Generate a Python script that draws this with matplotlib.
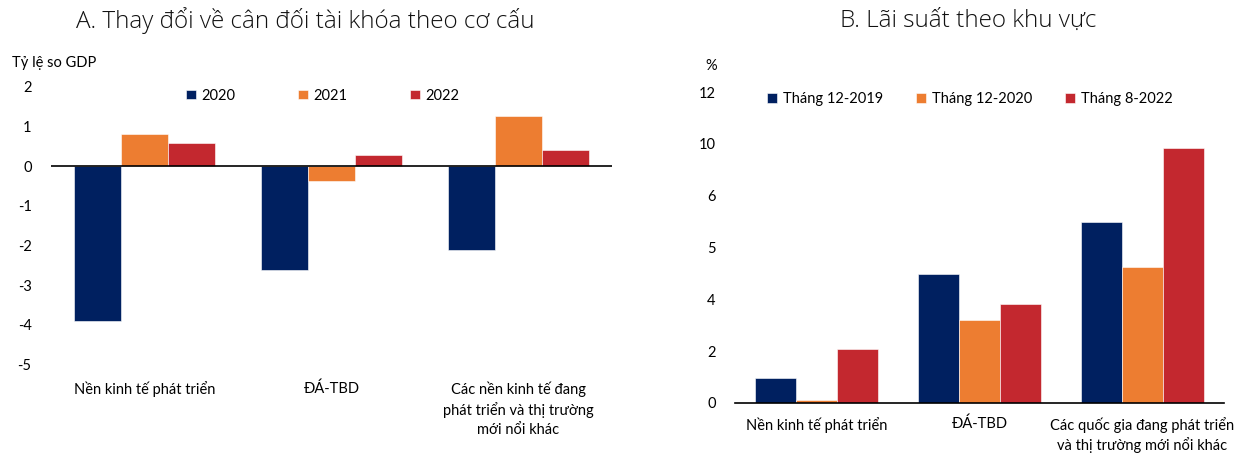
import numpy as np
import matplotlib
matplotlib.use('Agg')
import matplotlib.pyplot as plt

plt.rcParams['font.family'] = ['Lato', 'DejaVu Sans']

# --- data, panel A
cats_a = ['Nền kinh tế phát triển', 'ĐÁ-TBD',
          'Các nền kinh tế đang\nphát triển và thị trường\nmới nổi khác']
years_a = ['2020', '2021', '2022']
v2020 = [-3.90, -2.62, -2.12]
v2021 = [0.82, -0.38, 1.26]
v2022 = [0.58, 0.29, 0.41]
yticks_a = [-5, -4, -3, -2, -1, 0, 1, 2]

# --- data, panel B
cats_b = ['Nền kinh tế phát triển', 'ĐÁ-TBD',
          'Các quốc gia đang phát triển\nvà thị trường mới nổi khác']
months_b = ['Tháng 12-2019', 'Tháng 12-2020', 'Tháng 8-2022']
dec2019 = [0.96, 4.97, 7.0]
dec2020 = [0.13, 3.21, 5.23]
aug2022 = [2.08, 3.83, 9.84]
yticks_b = [0, 2, 4, 6, 8, 10, 12]
ylabels_b = ['0', '2', '4', '5', '6', '10', '12']

colors = ['#002060', '#ED7D31', '#C3282F']
w = 0.25

fig = plt.figure(figsize=(12.41, 4.53), dpi=100)
axA = fig.add_axes([0.0411, 0.1954, 0.4521, 0.6132])
axB = fig.add_axes([0.5923, 0.1104, 0.3940, 0.6865])

x = np.arange(len(cats_a))
for i, (vals, lab) in enumerate(zip([v2020, v2021, v2022], years_a)):
    axA.bar(x + (i - 1) * w, vals, w, color=colors[i], label=lab,
            edgecolor='white', linewidth=0.4)
axA.axhline(0, color='black', lw=1.2)
axA.set_xlim(-0.5, 2.5)
axA.set_ylim(-5, 2)
axA.set_yticks(yticks_a)
axA.set_yticklabels([str(t) for t in yticks_a])
axA.set_xticks(x)
axA.set_xticklabels(cats_a, linespacing=1.45)
axA.tick_params(axis='x', length=0, pad=12, labelsize=10.5)
axA.tick_params(axis='y', length=0, pad=14, labelsize=10.5)
for s in axA.spines.values():
    s.set_visible(False)
axA.legend(ncol=3, loc='upper left', bbox_to_anchor=(0.2175, 1.04), frameon=False,
           handlelength=0.65, handleheight=0.65, handletextpad=0.4,
           columnspacing=4.3, fontsize=10.5)
fig.text(0.010, 0.862, 'Tỷ lệ so GDP', fontsize=10.5, va='center')
fig.text(0.246, 0.955, 'A. Thay đổi về cân đối tài khóa theo cơ cấu',
         fontsize=17.5, family=['Open Sans', 'DejaVu Sans'], fontweight='light',
         color='#111111', ha='center', va='center')

xb = np.arange(len(cats_b))
for i, (vals, lab) in enumerate(zip([dec2019, dec2020, aug2022], months_b)):
    axB.bar(xb + (i - 1) * w, vals, w, color=colors[i], label=lab,
            edgecolor='white', linewidth=0.4)
axB.set_xlim(-0.5, 2.5)
axB.set_ylim(0, 12)
axB.set_yticks(yticks_b)
axB.set_yticklabels(ylabels_b)
axB.set_xticks(xb)
axB.set_xticklabels(cats_b, linespacing=1.35)
axB.tick_params(axis='x', length=0, pad=10, labelsize=10.5)
axB.tick_params(axis='y', length=0, pad=14, labelsize=10.5)
for k, s in axB.spines.items():
    s.set_visible(k == 'bottom')
axB.spines['bottom'].set_linewidth(1.2)
axB.legend(ncol=3, loc='upper left', bbox_to_anchor=(0.039, 1.043), frameon=False,
           handlelength=0.65, handleheight=0.65, handletextpad=0.4,
           columnspacing=2.3, fontsize=10.5)
fig.text(0.568, 0.855, '%', fontsize=10.5, va='center')
fig.text(0.780, 0.955, 'B. Lãi suất theo khu vực',
         fontsize=17.5, family=['Open Sans', 'DejaVu Sans'], fontweight='light',
         color='#111111', ha='center', va='center')

fig.savefig('out.png', dpi=100)
